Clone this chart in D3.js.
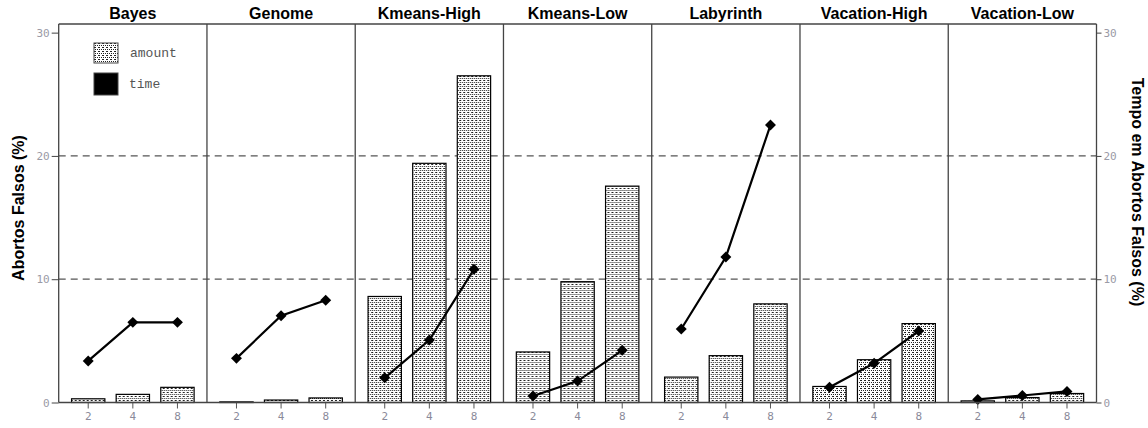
<!DOCTYPE html>
<html>
<head>
<meta charset="utf-8">
<script src="https://cdn.jsdelivr.net/npm/d3@7"></script>
<style>
  html, body { margin: 0; padding: 0; background: #fff; }
  svg { display: block; }
</style>
</head>
<body>
<svg id="chart" width="1148" height="428"></svg>
<script>
// Benchmarks (one panel each) and thread counts
const benchmarks = ["Bayes", "Genome", "Kmeans-High", "Kmeans-Low", "Labyrinth", "Vacation-High", "Vacation-Low"];
const threads = ["2", "4", "8"];

// False aborts (%) -- bars, left axis
const amountValues = [
  [0.3, 0.66, 1.23],
  [0.05, 0.2, 0.37],
  [8.6, 19.4, 26.5],
  [4.1, 9.8, 17.55],
  [2.06, 3.8, 8.0],
  [1.3, 3.47, 6.4],
  [0.13, 0.4, 0.73]
];

// Time spent in false aborts (%) -- line, right axis
const timeValues = [
  [3.37, 6.5, 6.5],
  [3.58, 7.04, 8.29],
  [2.0, 5.07, 10.8],
  [0.53, 1.74, 4.23],
  [5.96, 11.8, 22.5],
  [1.23, 3.18, 5.8],
  [0.25, 0.57, 0.9]
];

const yTicks = [0, 10, 20, 30];
const gridLines = [10, 20];
const legendItems = ["amount", "time"];

const svg = d3.select("#chart");

const plotLeft = 58.7, plotRight = 1096.5, plotTop = 24, plotBottom = 402.5;

const panelX = d3.scaleBand().domain(benchmarks).range([plotLeft, plotRight]).padding(0);
const xInner = d3.scaleBand().domain(threads).range([0, panelX.bandwidth()])
  .paddingInner(0.253).paddingOuter(0.288);
const yLeft = d3.scaleLinear().domain([0, 30.7]).range([plotBottom, plotTop]);
const yRight = d3.scaleLinear().domain([0, 30.7]).range([plotBottom, plotTop]);

// Speckled fill for the bars
const defs = svg.append("defs");
const pat = defs.append("pattern").attr("id", "speckle")
  .attr("patternUnits", "userSpaceOnUse").attr("width", 4).attr("height", 4);
pat.append("rect").attr("width", 4).attr("height", 4).attr("fill", "#fff");
[[0, 0, 2, 1], [1, 2, 1, 1], [3, 2, 1, 1]].forEach(([x, y, w, h]) => {
  pat.append("rect").attr("x", x).attr("y", y).attr("width", w).attr("height", h).attr("fill", "#222");
});

// Grid dashes at 10 and 20
svg.append("g").selectAll("line").data(gridLines).join("line")
  .attr("x1", plotLeft).attr("x2", plotRight)
  .attr("y1", d => yLeft(d)).attr("y2", d => yLeft(d))
  .attr("stroke", "#555").attr("stroke-width", 1.2).attr("stroke-dasharray", "7,5");

// Panels
benchmarks.forEach((name, i) => {
  const g = svg.append("g").attr("transform", `translate(${panelX(name)},0)`);

  g.selectAll("rect.bar").data(threads).join("rect")
    .attr("class", "bar")
    .attr("x", d => xInner(d))
    .attr("width", xInner.bandwidth())
    .attr("y", (d, j) => yLeft(amountValues[i][j]))
    .attr("height", (d, j) => plotBottom - yLeft(amountValues[i][j]))
    .attr("fill", "url(#speckle)")
    .attr("stroke", "#000").attr("stroke-width", 1.2);

  const line = d3.line()
    .x((d, j) => xInner(threads[j]) + xInner.bandwidth() / 2)
    .y(d => yRight(d));
  g.append("path").datum(timeValues[i])
    .attr("d", line).attr("fill", "none")
    .attr("stroke", "#000").attr("stroke-width", 2.2);

  g.selectAll("path.mark").data(timeValues[i]).join("path")
    .attr("class", "mark")
    .attr("d", d3.symbol().type(d3.symbolSquare).size(60))
    .attr("transform", (d, j) =>
      `translate(${xInner(threads[j]) + xInner.bandwidth() / 2},${yRight(d)}) rotate(45)`)
    .attr("fill", "#000");

  // Thread-count ticks
  const xAxis = d3.axisBottom(xInner).tickSize(6).tickPadding(4);
  const ax = g.append("g").attr("transform", `translate(0,${plotBottom})`).call(xAxis);
  ax.select(".domain").remove();
  ax.selectAll("line").attr("stroke", "#555");
  ax.selectAll("text").attr("fill", "#8a8a9a").attr("font-family", "DejaVu Sans Mono")
    .attr("font-size", 11);

  // Panel title
  svg.append("text")
    .attr("x", panelX(name) + panelX.bandwidth() / 2)
    .attr("y", 19)
    .attr("text-anchor", "middle")
    .attr("font-family", "Liberation Sans, Arial, sans-serif")
    .attr("font-weight", "bold").attr("font-size", 16)
    .text(name);
});

// Panel frame
const frame = svg.append("g").attr("stroke", "#444").attr("stroke-width", 1.3);
frame.append("line").attr("x1", plotLeft).attr("x2", plotRight).attr("y1", plotTop).attr("y2", plotTop);
frame.append("line").attr("x1", plotLeft).attr("x2", plotRight).attr("y1", plotBottom).attr("y2", plotBottom);
frame.selectAll("line.sep").data(benchmarks.concat(["end"])).join("line")
  .attr("class", "sep")
  .attr("x1", (d, i) => i < benchmarks.length ? panelX(d) : plotRight)
  .attr("x2", (d, i) => i < benchmarks.length ? panelX(d) : plotRight)
  .attr("y1", plotTop).attr("y2", plotBottom);

// Left and right value axes
const axL = svg.append("g").attr("transform", `translate(${plotLeft},0)`)
  .call(d3.axisLeft(yLeft).tickValues(yTicks).tickSize(7).tickPadding(2));
const axR = svg.append("g").attr("transform", `translate(${plotRight},0)`)
  .call(d3.axisRight(yRight).tickValues(yTicks).tickSize(5).tickPadding(2));
[axL, axR].forEach(a => {
  a.select(".domain").remove();
  a.selectAll("line").attr("stroke", "#444");
  a.selectAll("text").attr("fill", "#9a9aa6").attr("font-family", "DejaVu Sans Mono")
    .attr("font-size", 11);
});

// Axis titles
svg.append("text")
  .attr("transform", `translate(24,208) rotate(-90)`)
  .attr("text-anchor", "middle")
  .attr("font-family", "Liberation Sans, Arial, sans-serif")
  .attr("font-weight", "bold").attr("font-size", 16)
  .text("Abortos Falsos (%)");
svg.append("text")
  .attr("transform", `translate(1132,192) rotate(90)`)
  .attr("text-anchor", "middle")
  .attr("font-family", "Liberation Sans, Arial, sans-serif")
  .attr("font-weight", "bold").attr("font-size", 16)
  .text("Tempo em Abortos Falsos (%)");

// Legend
const legend = svg.append("g").attr("transform", "translate(94,43)");
legend.selectAll("rect").data(legendItems).join("rect")
  .attr("x", 0).attr("y", (d, i) => i * 30)
  .attr("width", 24).attr("height", (d, i) => i === 0 ? 20 : 22)
  .attr("fill", d => d === "amount" ? "url(#speckle)" : "#000")
  .attr("stroke", "#444").attr("stroke-width", 1);
legend.selectAll("text").data(legendItems).join("text")
  .attr("x", (d, i) => i === 0 ? 36 : 35)
  .attr("y", (d, i) => 14 + i * 31)
  .attr("font-family", "Liberation Mono, Courier New, monospace")
  .attr("font-size", 13).attr("fill", "#555")
  .text(d => d);
</script>
</body>
</html>
